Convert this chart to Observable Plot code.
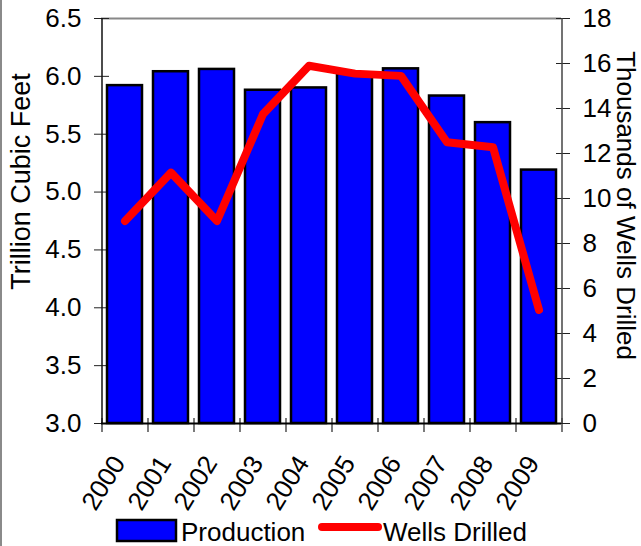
<!DOCTYPE html>
<html>
<head>
<meta charset="utf-8">
<script src="https://cdn.jsdelivr.net/npm/d3@7"></script>
<script src="https://cdn.jsdelivr.net/npm/@observablehq/plot@0.6"></script>
<style>
  html, body { margin: 0; padding: 0; background: #fff; }
  #wrap { position: relative; width: 641px; height: 546px; overflow: hidden; font-family: "Liberation Sans", Arial, sans-serif; }
  #legend { position: absolute; left: 0; top: 508px; }
  #edge { position: absolute; left: 0; top: 0; width: 2px; height: 546px; background: #8a8a8a; }
</style>
</head>
<body>
<div id="wrap"><div id="chart"></div><div id="legend"></div><div id="edge"></div></div>
<script>
const years = ["2000","2001","2002","2003","2004","2005","2006","2007","2008","2009"];
const production = [5.92, 6.04, 6.06, 5.88, 5.90, 6.02, 6.065, 5.83, 5.60, 5.19];
const wells = [9.0, 11.15, 9.0, 13.75, 15.9, 15.55, 15.45, 12.5, 12.28, 5.05];
const leftTicks = [3.0, 3.5, 4.0, 4.5, 5.0, 5.5, 6.0, 6.5];
const rightTicks = [0, 2, 4, 6, 8, 10, 12, 14, 16, 18];
const seriesNames = ["Production", "Wells Drilled"];
const leftTitle = "Trillion Cubic Feet";
const rightTitle = "Thousands of Wells Drilled";

const yMin = 3, yMax = 6.5, wMax = 18;
const toY = w => yMin + w * (yMax - yMin) / wMax;
const fromY = v => (v - yMin) * wMax / (yMax - yMin);

const data = years.map((year, i) => ({year, production: production[i], wells: wells[i]}));

const W = 641, H = 546, mL = 101, mR = 80, mT = 18, mB = 123;
const step = (W - mL - mR) / years.length;
const pxPerUnit = (H - mT - mB) / (yMax - yMin);
const font = "Liberation Sans, Arial, sans-serif";

const chart = Plot.plot({
  width: W, height: H,
  marginLeft: mL, marginRight: mR, marginTop: mT, marginBottom: mB,
  style: {fontFamily: font, fontSize: "26px", color: "#000", background: "#fff"},
  x: {type: "band", domain: years, paddingInner: 0.24, paddingOuter: 0.12, axis: null, label: null},
  y: {domain: [yMin, yMax], axis: null, label: null},
  marks: [
    Plot.ruleY([yMax], {stroke: "#888", strokeWidth: 2}),
    Plot.axisY(leftTicks, {anchor: "left", label: null, tickSize: 8, dx: 8, tickFormat: () => "", stroke: "#222"}),
    Plot.axisY(rightTicks.map(toY), {anchor: "right", label: null, tickSize: 6, dx: -6, tickFormat: () => "", stroke: "#222"}),
    Plot.axisY(leftTicks, {anchor: "left", label: null, tickSize: 7, tickPadding: 13, tickFormat: d => d.toFixed(1), stroke: "#222", fill: "#000"}),
    Plot.axisY(rightTicks.map(toY), {anchor: "right", label: null, tickSize: 8, tickPadding: 13, tickFormat: d => String(Math.round(fromY(d))), stroke: "#222", fill: "#000"}),
    Plot.ruleX(years, {x: d => d, dx: -step / 2, y1: yMin + 5 / pxPerUnit, y2: yMin - 9 / pxPerUnit, stroke: "#222", strokeWidth: 1.2}),
    Plot.ruleX([years[years.length - 1]], {x: d => d, dx: step / 2, y1: yMin + 5 / pxPerUnit, y2: yMin - 9 / pxPerUnit, stroke: "#222", strokeWidth: 1.2}),
    Plot.barY(data, {x: "year", y1: yMin, y2: "production", fill: "#0000FF", stroke: "#000", strokeWidth: 2.5}),
    Plot.ruleX([years[0]], {x: d => d, dx: -step / 2, y1: yMin, y2: yMax, stroke: "#111", strokeWidth: 1.5}),
    Plot.ruleX([years[years.length - 1]], {x: d => d, dx: step / 2, y1: yMin, y2: yMax, stroke: "#444", strokeWidth: 1.5}),
    Plot.ruleY([yMin], {stroke: "#000", strokeWidth: 2}),
    Plot.line(data, {x: "year", y: d => toY(d.wells), stroke: "#FF0000", strokeWidth: 8, strokeLinecap: "round", strokeLinejoin: "round"}),
    Plot.text(years, {x: d => d, frameAnchor: "bottom", dx: -6, dy: 35, rotate: -58, textAnchor: "end", lineAnchor: "middle", fontSize: 26, fill: "#000"}),
    Plot.text([leftTitle], {frameAnchor: "left", dx: -80, dy: -39.5, rotate: -90, textAnchor: "middle", lineAnchor: "middle", fontSize: 27, fill: "#000"}),
    Plot.text([rightTitle], {frameAnchor: "right", dx: 64, dy: -15.5, rotate: 90, textAnchor: "middle", lineAnchor: "middle", fontSize: 26, fill: "#000"})
  ]
});
document.getElementById("chart").appendChild(chart);

const lg = d3.select("#legend").append("svg")
  .attr("width", W).attr("height", 38)
  .style("display", "block")
  .attr("font-family", font).attr("font-size", 26);
lg.append("rect").attr("x", 117).attr("y", 12).attr("width", 59).attr("height", 21)
  .attr("fill", "#0000FF").attr("stroke", "#000").attr("stroke-width", 2.5);
lg.append("text").attr("x", 181).attr("y", 33).text(seriesNames[0]);
lg.append("line").attr("x1", 322).attr("x2", 378).attr("y1", 19).attr("y2", 19)
  .attr("stroke", "#FF0000").attr("stroke-width", 8).attr("stroke-linecap", "round");
lg.append("text").attr("x", 383).attr("y", 33).text(seriesNames[1]);
</script>
</body>
</html>
